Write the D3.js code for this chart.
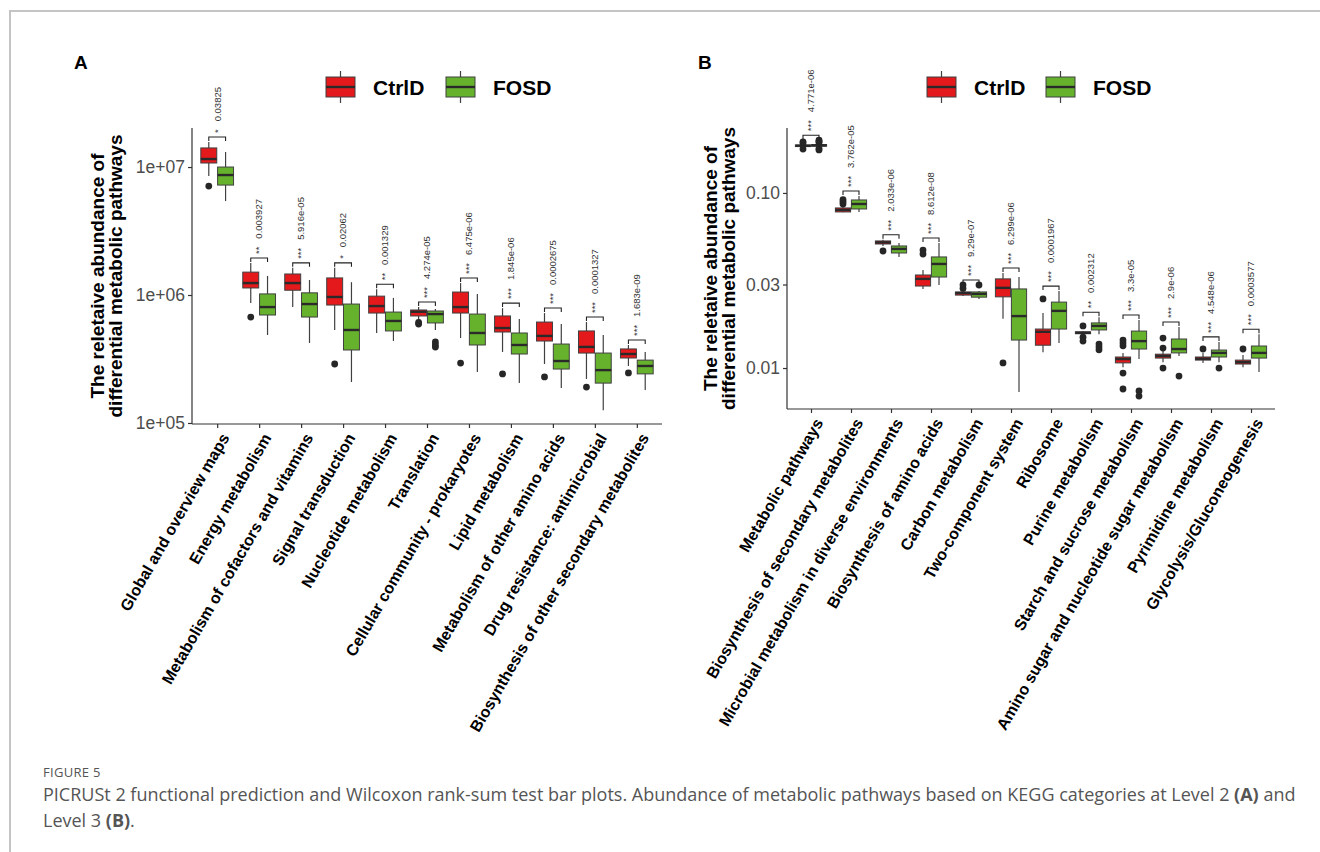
<!DOCTYPE html>
<html>
<head>
<meta charset="utf-8">
<script src="https://cdn.jsdelivr.net/npm/d3@7"></script>
<style>
  body { margin: 0; background: #fff; }
  svg { display: block; }
</style>
</head>
<body>
<div id="chart"></div>
<script>
// ---- panel A : KEGG level 2 ----
const catsA = ["Global and overview maps", "Energy metabolism", "Metabolism of cofactors and vitamins",
  "Signal transduction", "Nucleotide metabolism", "Translation", "Cellular community - prokaryotes",
  "Lipid metabolism", "Metabolism of other amino acids", "Drug resistance: antimicrobial",
  "Biosynthesis of other secondary metabolites"];
// each row: [lower whisker, Q1, median, Q3, upper whisker]
const ctrlA = [
  [8.5e6, 1.075e7, 1.155e7, 1.41e7, 1.57e7],
  [8.66e5, 1.135e6, 1.24e6, 1.51e6, 1.78e6],
  [8.05e5, 1.09e6, 1.24e6, 1.46e6, 1.63e6],
  [5.33e5, 8.35e5, 9.65e5, 1.36e6, 1.63e6],
  [5.05e5, 7.23e5, 8.2e5, 9.8e5, 1.11e6],
  [6.38e5, 6.86e5, 7.4e5, 7.64e5, 8.05e5],
  [4.61e5, 7.23e5, 8.05e5, 1.055e6, 1.24e6],
  [3.59e5, 5.14e5, 5.52e5, 6.86e5, 7.9e5],
  [2.89e5, 4.37e5, 4.79e5, 6.15e5, 7.23e5],
  [2.21e5, 3.52e5, 3.93e5, 5.24e5, 6.15e5],
  [2.79e5, 3.22e5, 3.46e5, 3.79e5, 4.07e5]
];
const fosdA = [
  [5.42e6, 7.23e6, 8.66e6, 1.0e7, 1.31e7],
  [4.87e5, 6.98e5, 8.05e5, 1.02e6, 1.41e6],
  [4.22e5, 6.73e5, 8.5e5, 1.04e6, 1.31e6],
  [2.09e5, 3.72e5, 5.33e5, 8.5e5, 1.26e6],
  [4.37e5, 5.24e5, 6.27e5, 7.36e5, 9.5e5],
  [5.33e5, 6.05e5, 7.1e5, 7.5e5, 7.77e5],
  [2.5e5, 4.07e5, 5.05e5, 7.1e5, 1.02e6],
  [2.05e5, 3.46e5, 4.07e5, 5.05e5, 6.49e5],
  [1.88e5, 2.64e5, 3.05e5, 4.14e5, 5.93e5],
  [1.26e5, 2.05e5, 2.59e5, 3.52e5, 4.87e5],
  [1.81e5, 2.42e5, 2.79e5, 3.1e5, 3.59e5]
];
const ctrlOutA = [[7.1e6], [6.73e5], [], [2.89e5], [], [5.93e5, 6.1e5], [2.94e5], [2.42e5], [2.29e5], [1.91e5], [2.46e5]];
const fosdOutA = [[], [], [], [], [], [4.3e5, 4.07e5, 3.92e5], [], [], [], [], []];
const pA = ["0.03825", "0.003927", "5.916e-05", "0.02062", "0.001329", "4.274e-05", "6.475e-06",
  "1.845e-06", "0.0002675", "0.0001327", "1.683e-09"];
const starsA = ["*", "**", "***", "*", "**", "***", "***", "***", "***", "***", "***"];
const ticksA = [1e5, 1e6, 1e7];

// ---- panel B : KEGG level 3 ----
const catsB = ["Metabolic pathways", "Biosynthesis of secondary metabolites",
  "Microbial metabolism in diverse environments", "Biosynthesis of amino acids", "Carbon metabolism",
  "Two-component system", "Ribosome", "Purine metabolism", "Starch and sucrose metabolism",
  "Amino sugar and nucleotide sugar metabolism", "Pyrimidine metabolism", "Glycolysis/Gluconeogenesis"];
const ctrlB = [
  [0.182, 0.184, 0.186, 0.188, 0.19],
  [0.0775, 0.0779, 0.080, 0.0821, 0.083],
  [0.0498, 0.0511, 0.0522, 0.0532, 0.054],
  [0.0283, 0.0294, 0.0323, 0.034, 0.0363],
  [0.0258, 0.0261, 0.0268, 0.0272, 0.0279],
  [0.0191, 0.0255, 0.0287, 0.0323, 0.0349],
  [0.0123, 0.0135, 0.0161, 0.0167, 0.0206],
  [0.0155, 0.0157, 0.0159, 0.0161, 0.0163],
  [0.0101, 0.0107, 0.01125, 0.01156, 0.0122],
  [0.0108, 0.0114, 0.01172, 0.0120, 0.01267],
  [0.0107, 0.0111, 0.0113, 0.01156, 0.0122],
  [0.0101, 0.01054, 0.0108, 0.0111, 0.01186]
];
const fosdB = [
  [0.183, 0.185, 0.187, 0.189, 0.191],
  [0.0779, 0.081, 0.0865, 0.0912, 0.0961],
  [0.0431, 0.0454, 0.0479, 0.0498, 0.0518],
  [0.0298, 0.0331, 0.0393, 0.0431, 0.0518],
  [0.0248, 0.0254, 0.0265, 0.0272, 0.0275],
  [0.0073, 0.01445, 0.0198, 0.0283, 0.0331],
  [0.0139, 0.0167, 0.0212, 0.0238, 0.0275],
  [0.0156, 0.0165, 0.0174, 0.0181, 0.0195],
  [0.01125, 0.01284, 0.01425, 0.01626, 0.0188],
  [0.01172, 0.0122, 0.01284, 0.01465, 0.01714],
  [0.0108, 0.01156, 0.0122, 0.01267, 0.0141],
  [0.0095, 0.0114, 0.0122, 0.01336, 0.0156]
];
const ctrlOutB = [[0.178, 0.193, 0.196], [0.0866, 0.089, 0.0915], [0.0466], [0.0448, 0.0472], [0.0285, 0.0298],
  [0.0107], [0.0248], [0.0174, 0.0150, 0.01425], [0.01445, 0.0139, 0.0134, 0.00936, 0.00759],
  [0.01483, 0.013, 0.0100], [0.01284], [0.01284]];
const fosdOutB = [[0.176, 0.179, 0.194, 0.197, 0.2], [], [], [], [0.0298], [], [],
  [0.0137, 0.0132, 0.0127], [0.0074, 0.00692], [0.009], [0.0100], []];
const pB = ["4.771e-06", "3.762e-05", "2.033e-06", "8.612e-08", "9.29e-07", "6.299e-06", "0.0001967",
  "0.002312", "3.3e-05", "2.9e-06", "4.548e-06", "0.0003577"];
const starsB = ["***", "***", "***", "***", "***", "***", "***", "**", "***", "***", "***", "***"];
const ticksB = [0.01, 0.03, 0.10];

const groups = ["CtrlD", "FOSD"];
const colors = ["#e3191c", "#66b22d"];

const W = 1320, H = 852;
const svg = d3.select("#chart").append("svg")
  .attr("width", W).attr("height", H)
  .attr("viewBox", [0, 0, W, H]);

// figure frame (left + top rule)
svg.append("path")
  .attr("d", `M10,${H} V11 H${W}`)
  .attr("fill", "none").attr("stroke", "#c4c4c4").attr("stroke-width", 2);

function drawPanel(o) {
  const g = svg.append("g");
  const x = d3.scalePoint().domain(o.cats).range([o.x0, o.x1]).padding(0.6);
  const y = d3.scaleLog().domain(o.yDomain).range([o.yBot, o.yTop]);
  const step = x.step();
  const bw = step * 0.38;
  const off = [-step * 0.2, step * 0.2];

  // axes
  g.append("g")
    .attr("transform", `translate(${o.x0},0)`)
    .call(d3.axisLeft(y).tickValues(o.ticks).tickFormat(o.fmt).tickSizeOuter(0).tickSize(4).tickPadding(3))
    .call(a => a.select(".domain").attr("d", `M-0,${o.yTop}V${o.yBot}`))
    .call(a => a.selectAll("line, path").attr("stroke", "#333").attr("stroke-width", 1.2))
    .call(a => a.selectAll("text").attr("fill", "#4d4d4d").attr("font-size", 17.5)
      .attr("font-family", "Liberation Sans, Arial, sans-serif"));

  g.append("g")
    .attr("transform", `translate(0,${o.yBot})`)
    .call(d3.axisBottom(x).tickSize(4).tickSizeOuter(0).tickFormat(""))
    .call(a => a.select(".domain").attr("d", `M${o.x0},0H${o.x1}`))
    .call(a => a.selectAll("line, path").attr("stroke", "#333").attr("stroke-width", 1.2));

  // rotated category labels
  g.append("g").selectAll("text").data(o.cats).join("text")
    .attr("transform", d => `translate(${x(d) + 3},${o.yBot + 8}) rotate(-60)`)
    .attr("text-anchor", "end").attr("dy", "0.7em")
    .attr("font-family", "Liberation Sans, Arial, sans-serif")
    .attr("font-weight", "bold").attr("font-size", 16).attr("fill", "#000")
    .text(d => d);

  // y title
  const yt = g.append("text")
    .attr("transform", `translate(${o.titleX},${(o.yTop + o.yBot) / 2}) rotate(-90)`)
    .attr("text-anchor", "middle")
    .attr("font-family", "Liberation Sans, Arial, sans-serif")
    .attr("font-weight", "bold").attr("font-size", 19);
  yt.append("tspan").attr("x", 0).attr("y", 0).text("The reletaive abundance of");
  yt.append("tspan").attr("x", 0).attr("y", 18).text("differential metabolic pathways");

  // boxes
  [o.ctrl, o.fosd].forEach((series, si) => {
    const outs = si === 0 ? o.ctrlOut : o.fosdOut;
    const bg = g.append("g");
    o.cats.forEach((c, i) => {
      const s = series[i];
      const cx = x(c) + off[si];
      bg.append("line")
        .attr("x1", cx).attr("x2", cx).attr("y1", y(s[0])).attr("y2", y(s[4]))
        .attr("stroke", "#404040").attr("stroke-width", 1.2);
      bg.append("rect")
        .attr("x", cx - bw / 2).attr("width", bw)
        .attr("y", y(s[3])).attr("height", Math.max(1, y(s[1]) - y(s[3])))
        .attr("fill", colors[si]).attr("stroke", "#404040").attr("stroke-width", 1);
      bg.append("line")
        .attr("x1", cx - bw / 2).attr("x2", cx + bw / 2).attr("y1", y(s[2])).attr("y2", y(s[2]))
        .attr("stroke", "#2a2a2a").attr("stroke-width", 2.4);
      bg.selectAll(null).data(outs[i]).join("circle")
        .attr("cx", cx).attr("cy", v => y(v)).attr("r", 3.4).attr("fill", "#262626");
    });
  });

  // significance brackets
  const sg = g.append("g");
  o.cats.forEach((c, i) => {
    const top = d3.max([o.ctrl[i][4], o.fosd[i][4], ...o.ctrlOut[i], ...o.fosdOut[i]]);
    const by = y(top) - 5;
    const xa = x(c) + off[0], xb = x(c) + off[1];
    sg.append("path")
      .attr("d", `M${xa},${by + 4}V${by}H${xb}V${by + 4}`)
      .attr("fill", "none").attr("stroke", "#222").attr("stroke-width", 1.1);
    sg.append("text")
      .attr("transform", `translate(${x(c)},${by - 4}) rotate(-90)`)
      .attr("dy", "0.35em")
      .attr("font-family", "Liberation Sans, Arial, sans-serif")
      .attr("font-size", 9.5).attr("fill", "#333")
      .attr("xml:space", "preserve")
      .text(o.stars[i] + "   " + o.p[i]);
  });

  // legend
  const lg = g.append("g").attr("transform", `translate(${o.legX},87)`);
  const keyW = 29, keyH = 20;
  const lx = [0, o.legGap];
  groups.forEach((name, k) => {
    const kg = lg.append("g").attr("transform", `translate(${lx[k]},0)`);
    kg.append("line").attr("x1", keyW / 2).attr("x2", keyW / 2).attr("y1", -16).attr("y2", 16)
      .attr("stroke", "#404040").attr("stroke-width", 1.2);
    kg.append("rect").attr("x", 0).attr("y", -keyH / 2).attr("width", keyW).attr("height", keyH)
      .attr("fill", colors[k]).attr("stroke", "#404040").attr("stroke-width", 1);
    kg.append("line").attr("x1", 0).attr("x2", keyW).attr("y1", 0).attr("y2", 0)
      .attr("stroke", "#2a2a2a").attr("stroke-width", 2.4);
    kg.append("text").attr("x", keyW + 18).attr("y", 0).attr("dy", "0.36em")
      .attr("font-family", "Liberation Sans, Arial, sans-serif")
      .attr("font-weight", "bold").attr("font-size", 21).text(name);
  });

  // panel letter
  svg.append("text").attr("x", o.letterX).attr("y", 69)
    .attr("font-family", "Liberation Sans, Arial, sans-serif")
    .attr("font-weight", "bold").attr("font-size", 19).text(o.letter);
}

drawPanel({
  letter: "A", letterX: 74,
  cats: catsA, ctrl: ctrlA, fosd: fosdA, ctrlOut: ctrlOutA, fosdOut: fosdOutA,
  p: pA, stars: starsA, ticks: ticksA, fmt: d3.format(".0e"),
  x0: 192, x1: 662, yTop: 128, yBot: 424,
  yDomain: [Math.pow(10, 5 - 1 / 128), Math.pow(10, 7.305)],
  titleX: 104, legX: 326, legGap: 120
});

drawPanel({
  letter: "B", letterX: 698,
  cats: catsB, ctrl: ctrlB, fosd: fosdB, ctrlOut: ctrlOutB, fosdOut: fosdOutB,
  p: pB, stars: starsB, ticks: ticksB, fmt: d3.format(".2f"),
  x0: 787, x1: 1275, yTop: 128, yBot: 409,
  yDomain: [Math.pow(10, -2.234), Math.pow(10, -0.629)],
  titleX: 717, legX: 927, legGap: 119
});

// ggplot style exponent labels (1e+05)
svg.selectAll("g.tick text").each(function () {
  const t = d3.select(this);
  t.text(t.text().replace(/e\+(\d)$/, "e+0$1"));
});

// caption
const cap = svg.append("g").attr("font-family", "Open Sans, sans-serif").attr("fill", "#555");
cap.append("text").attr("x", 43).attr("y", 777).attr("font-size", 13).attr("letter-spacing", 0.3)
  .text("FIGURE 5");
const l1 = cap.append("text").attr("x", 43).attr("y", 801).attr("font-size", 18);
l1.append("tspan").text("PICRUSt 2 functional prediction and Wilcoxon rank-sum test bar plots. Abundance of metabolic pathways based on KEGG categories at Level 2 ");
l1.append("tspan").attr("font-weight", "bold").text("(A)");
l1.append("tspan").text(" and");
const l2 = cap.append("text").attr("x", 43).attr("y", 827).attr("font-size", 18);
l2.append("tspan").text("Level 3 ");
l2.append("tspan").attr("font-weight", "bold").text("(B)");
l2.append("tspan").text(".");
</script>
</body>
</html>
